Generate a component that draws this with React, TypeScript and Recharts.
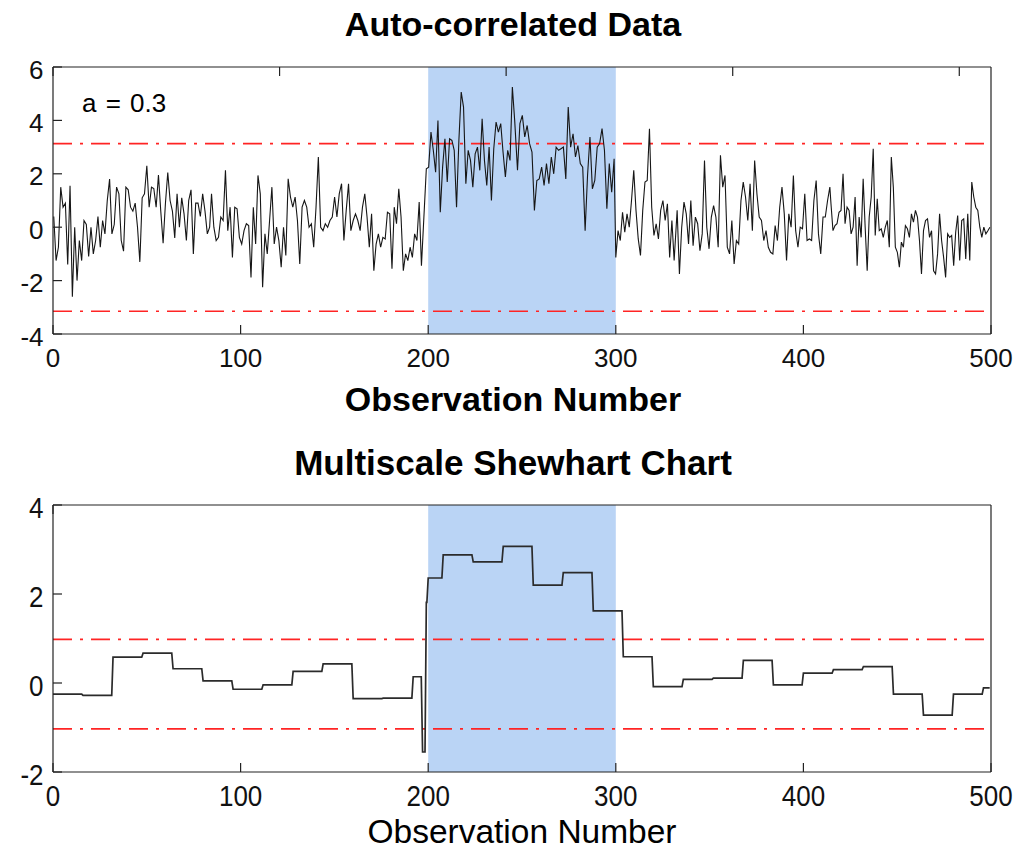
import { LineChart, Line, XAxis, YAxis, ReferenceArea, ReferenceLine } from "recharts";

const FONT = "'Liberation Sans', Arial, sans-serif";

const X_TICKS = [0, 100, 200, 300, 400, 500];
const AC_Y_TICKS = [-4, -2, 0, 2, 4, 6];
const MSS_Y_TICKS = [-2, 0, 2, 4];

const SHIFT_START = 200;
const SHIFT_END = 300;
const AC_LIMITS = [3.13, -3.15];
const MSS_LIMITS = [0.98, -1.03];

// auto-correlated data in runs (obs range of each run)
const AC_RUN_SPANS = [
  [0.4, 83.5], [84.5, 166.2], [167.4, 196.4], [199.0, 246.1],
  [247.6, 299.1], [300.0, 331.1], [332.7, 414.1], [414.7, 499.4],
];
const AC_RUN_1 = [0.4, -1.25, -0.75, 1.5, 0.75, 0.9, -1.4, 1.55, -2.6, 0, -2, -0.5, -1.25, 0.25, 0.1, -1.1, 0, -1, -0.5, 0.4, -0.75, 0.25, -0.25, 1, 1.8, -0.25, 0.1, 1.5, 1.25, -0.5, -0.9, 1.5, 1.4, 0.75, 0.6, 0.9, 0, -1.3, 1.1, 1.25, 2.3, 0.75, 1.5, 1.45, 0.75, 1.95, 0.6, -0.6, 0.9, 2.05, 1, 0.6, -0.4, 1.25, 0, 1.1, 0.5, -0.5, 1, 1.4, -1, 0.9, 0.9, 0.4, 1.25, 0.6, -0.25, 0];
const AC_RUN_2 = [1.25, 0, -0.5, -0.38, 0.38, 0.25, 2.13, -0.13, 0.75, -1.13, 0.75, 0.69, -0.38, -0.63, -0.13, 0.13, 0.06, -1.88, 0.75, -0.63, 1.94, 1.25, -2.25, -0.25, -1, 0.25, 1.5, -0.63, 0, -0.5, -1.5, 0, -1.06, 1.81, 1.13, 0.75, 1.13, 0.25, -1.38, 0.75, 1, 0.75, 0, 0.13, -0.75, 0.75, 2.63, 0, -0.13, 0.13, 0, 0.25, 0.38, 1.13, 0.38, 1.25, 1.63, -0.5, 0.63, 1.63, -0.13, 0.25, 0.5, 0.25, -0.13, 0.75, 1.25];
const AC_RUN_3 = [0.38, -0.75, 0.5, -1.63, -0.63, -0.25, -0.75, -0.38, -0.44, 0.56, 0.5, -1.56, 0.75, 0.13, 1.44, 0.38, -1.63, -1, -1.25, -0.75, -1.13, -0.25, -0.5, 0.94, -1.44];
const AC_RUN_4 = [2.19, 2.25, 3.56, 2.88, 2.06, 4.0, 0.56, 2.25, 3.31, 1.69, 3.31, 3.25, 2.88, 0.75, 3.25, 5.06, 4.5, 1.63, 2.88, 2.5, 1.5, 2.75, 3.0, 2.13, 4.06, 2.5, 1.56, 3.0, 1.0, 2.94, 3.94, 3.56, 3.88, 2.81, 1.88, 2.88, 2.5, 5.25, 4.0];
const AC_RUN_5 = [2.13, 3.88, 4.19, 3.38, 3.81, 3.13, 2.81, 0.63, 1.75, 1.81, 2.25, 1.56, 2.38, 1.63, 2.63, 2.0, 3.0, 2.88, 2.94, 3.0, 1.81, 4.5, 3.0, 3.5, 2.63, 3.06, 2.38, 2.25, -0.13, 1.94, 3.38, 1.44, 1.75, 3.0, 3.13, 3.69, 2.88, 0.69, 2.38, 1.31, 2.56];
const AC_RUN_6 = [-1.13, -0.13, -0.5, 0.56, -0.19, 0.5, 0, 1.0, 2.13, 0.63, -0.44, -1.06, 0.63, 1.69, 1.75, 3.69, 0.75, -0.31, 0.13, -0.44, 0.63, 1.0, 0.25, 0.88, -1.13, 0.25, -1.25];
const AC_RUN_7 = [0.63, -1.75, 0, 0.94, 0.5, -0.63, 1.0, -0.69, 0.38, 0.13, -0.88, -0.25, 2.5, 0, -0.81, 0.38, 0.81, 0.38, -0.75, 2.69, 1.5, 1.94, -0.75, -1.0, 0.25, -1.38, -0.5, -0.63, 1.0, 1.69, 1.13, 0.25, 1.63, -0.13, 2.5, 1.25, 0.38, 0.25, -0.5, -0.13, -0.75, -0.94, -1.0, 0.06, -0.5, 0.75, 1.5, 0.5, -1.25, 0.5, 0, 1.94, -0.13, -0.75, 0, -0.06, 1.25, -0.5, -0.44, -0.5, 1.0, 1.75, -0.25, -1.0, 0.38, 0.38, 1.0, 1.5];
const AC_RUN_8 = [0.88, -0.13, 0.06, 0.13, 0.56, 0.63, 2.0, 0.13, 0.75, 0.63, -0.25, 0, 1.13, -1.44, 0.38, -0.38, 1.81, 0, -1.63, 0.38, 1.13, 2.94, -0.31, 1.06, -0.13, -0.06, -0.38, 0, 0.25, -0.75, 2.63, 1.5, -0.75, -0.94, -1.5, -0.56, -0.75, 0.06, -0.06, -0.38, 0.5, 0.19, 0.63, 0.38, -0.5, -1.75, -0.13, 0.25, 0.31, -0.38, -0.13, -1.63, -1.75, -1.0, 0.5, -0.5, -1.13, -1.88, -0.25, -0.38, -0.31, -1.44, -0.19, 0.44, -1.25, 0.25, 0.31, -1.19, 0.5, -1.25, 1.69, 1.13, 0.75, 0.63, 0, -0.38, 0, -0.25, -0.13, 0];
const AC_RUNS = [AC_RUN_1, AC_RUN_2, AC_RUN_3, AC_RUN_4, AC_RUN_5, AC_RUN_6, AC_RUN_7, AC_RUN_8];

// multiscale shewhart: level held from each start to the next one
const MSS_STEP_START = [0, 16, 32, 48, 64, 80, 96, 112, 128, 144, 160, 176, 192, 197, 199, 200, 208, 224, 240, 256, 272, 288, 304, 320, 336, 352, 368, 384, 400, 416, 432, 448, 464, 480, 496];
const MSS_LEVEL = [-0.25, -0.28, 0.58, 0.67, 0.32, 0.05, -0.14, -0.04, 0.26, 0.43, -0.35, -0.34, 0.14, -1.55, 1.81, 2.36, 2.88, 2.72, 3.07, 2.2, 2.48, 1.62, 0.59, -0.08, 0.08, 0.11, 0.51, -0.04, 0.22, 0.3, 0.37, -0.25, -0.72, -0.25, -0.11];

const acData = AC_RUNS.flatMap((vals, r) => {
  const [from, to] = AC_RUN_SPANS[r];
  const step = (to - from) / (vals.length - 1);
  return vals.map((value, i) => ({ obs: from + i * step, value }));
});

const mssData = MSS_STEP_START.flatMap((start, i) => {
  const end = MSS_STEP_START[i + 1] ?? 500;
  const value = MSS_LEVEL[i];
  return [{ obs: start, value }, { obs: Math.max(start, end - 0.7), value }];
});

const INK = "#222";
const AXIS = { stroke: INK, strokeWidth: 1.2 };
const LIMIT = { stroke: "#ff2424", strokeWidth: 1.6, strokeDasharray: "19 8 3 8" };
const TICK_LEN = 9;

type TickProps = { x?: number; y?: number; payload?: { value: number } };

// matlab-style ticks: short marks pointing into the box, labels outside
function tickRenderer(side: "bottom" | "top" | "left" | "right", sy: number, drop: number) {
  return function Tick({ x = 0, y = 0, payload }: TickProps) {
    const label = payload ? String(payload.value) : "";
    if (side === "bottom") {
      return (
        <g>
          <line x1={x} y1={y} x2={x} y2={y - TICK_LEN} stroke={INK} strokeWidth={1.2} />
          <text transform={`translate(${x},${y + drop}) scale(1,${sy})`} textAnchor="middle"
            fontSize={26} fontFamily={FONT} fill="#111">{label}</text>
        </g>
      );
    }
    if (side === "left") {
      return (
        <g>
          <line x1={x} y1={y} x2={x + TICK_LEN} y2={y} stroke={INK} strokeWidth={1.2} />
          <text transform={`translate(${x - 9.5},${y + drop}) scale(1,${sy})`} textAnchor="end"
            fontSize={26} fontFamily={FONT} fill="#111">{label}</text>
        </g>
      );
    }
    if (side === "top") {
      return <line x1={x} y1={y} x2={x} y2={y + TICK_LEN} stroke={INK} strokeWidth={1.2} />;
    }
    return <line x1={x} y1={y} x2={x - TICK_LEN} y2={y} stroke={INK} strokeWidth={1.2} />;
  };
}

function Panel({ data, yTicks, limits, top, height, marginTop, bottomH, stroke, width, sy, xDrop, yDrop }: {
  data: { obs: number; value: number }[];
  yTicks: number[];
  limits: number[];
  top: number;
  height: number;
  marginTop: number;
  bottomH: number;
  stroke: string;
  width: number;
  sy: number;
  xDrop: number;
  yDrop: number;
}) {
  const yDomain = [yTicks[0], yTicks[yTicks.length - 1]];
  return (
    <div style={{ position: "absolute", left: 0, top }}>
      <LineChart width={1021} height={height} data={data} margin={{ top: marginTop, right: 29, bottom: 0, left: 0 }}>
        <ReferenceArea x1={SHIFT_START} x2={SHIFT_END} fill="#bad4f5" fillOpacity={1} stroke="none" />
        {limits.map((y) => (
          <ReferenceLine key={y} y={y} {...LIMIT} />
        ))}
        <XAxis
          dataKey="obs" type="number" domain={[0, 500]} ticks={X_TICKS} interval={0}
          height={bottomH} tickSize={0} tickMargin={0}
          axisLine={AXIS} tickLine={false} tick={tickRenderer("bottom", sy, xDrop)}
        />
        <XAxis
          xAxisId="top" orientation="top" type="number" domain={[0, 500]} ticks={X_TICKS} interval={0}
          height={1} tickSize={0} tickMargin={0} axisLine={AXIS} tickLine={false}
          tick={tickRenderer("top", 1, 0)}
        />
        <YAxis
          type="number" domain={yDomain} ticks={yTicks} interval={0} width={53}
          tickSize={0} tickMargin={0} axisLine={AXIS} tickLine={false}
          tick={tickRenderer("left", sy, yDrop)}
        />
        <YAxis
          yAxisId="r" orientation="right" type="number" domain={yDomain} ticks={yTicks} interval={0}
          width={1} tickSize={0} tickMargin={0} axisLine={AXIS} tickLine={false}
          tick={tickRenderer("right", 1, 0)}
        />
        <Line
          dataKey="value" type="linear" stroke={stroke} strokeWidth={width}
          dot={false} activeDot={false} isAnimationActive={false}
        />
      </LineChart>
    </div>
  );
}

export default function App() {
  return (
    <div style={{ position: "absolute", left: 0, top: 0, width: 1021, height: 851, background: "#fff" }}>
      <Panel
        data={acData} yTicks={AC_Y_TICKS} limits={AC_LIMITS}
        top={0} height={425} marginTop={66} bottomH={91}
        stroke="#161616" width={1.1} sy={1} xDrop={32.5} yDrop={11.5}
      />
      <Panel
        data={mssData} yTicks={MSS_Y_TICKS} limits={MSS_LIMITS}
        top={430} height={421} marginTop={74} bottomH={79}
        stroke="#2b2b2b" width={1.7} sy={1.12} xDrop={34} yDrop={12.5}
      />
      <svg width={1021} height={851} style={{ position: "absolute", left: 0, top: 0, pointerEvents: "none" }}>
        <g fontFamily={FONT} fill="#000">
          <text x={513} y={36} fontSize={34} fontWeight="bold" textAnchor="middle">Auto-correlated Data</text>
          <text x={82} y={112} fontSize={26} wordSpacing={2}>a = 0.3</text>
          <text x={513} y={411} fontSize={34} fontWeight="bold" textAnchor="middle">Observation Number</text>
          <text x={513} y={475} fontSize={35} fontWeight="bold" textAnchor="middle">Multiscale Shewhart Chart</text>
          <text x={522} y={843} fontSize={33.5} textAnchor="middle">Observation Number</text>
        </g>
      </svg>
    </div>
  );
}
